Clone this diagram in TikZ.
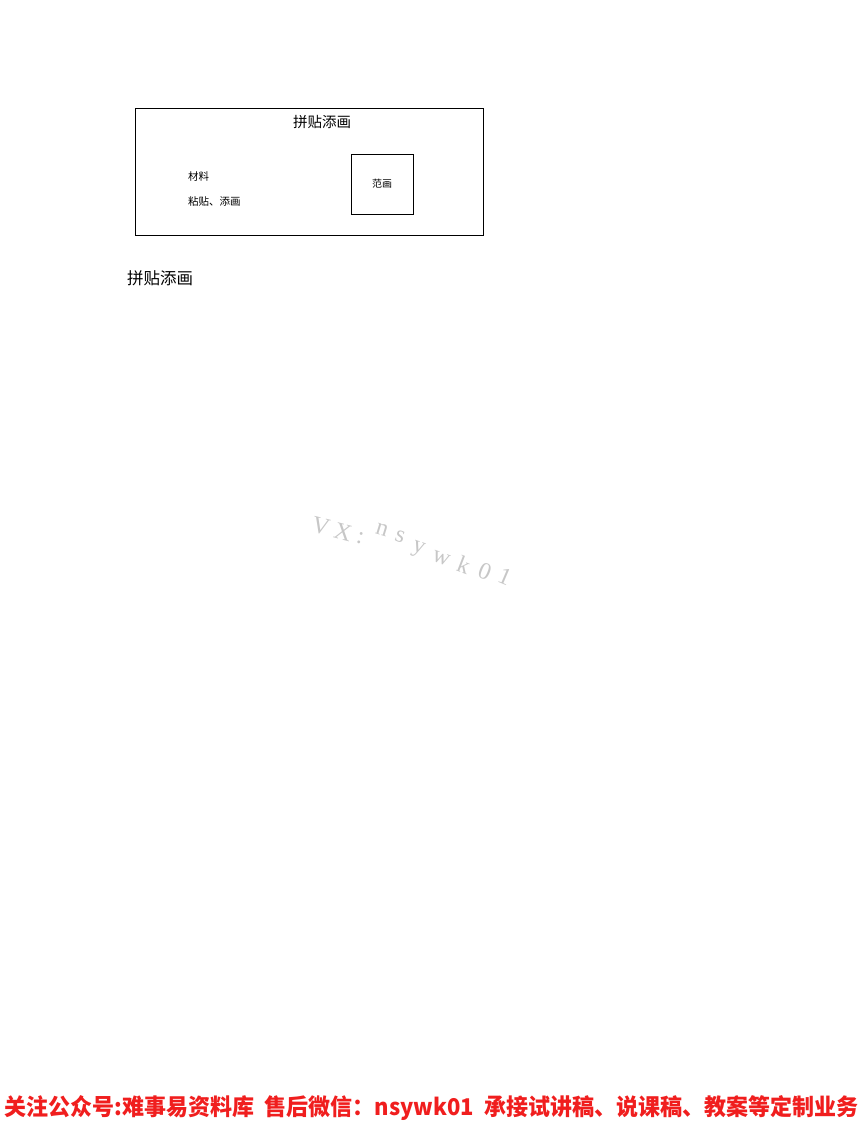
\documentclass[tikz,border=0pt]{standalone}
\usepackage{fontspec}
\usepackage{graphicx}
\newfontfamily\cjk{Noto Sans CJK SC}
\setmainfont{Liberation Serif}
\begin{document}
\begin{tikzpicture}[x=1bp,y=-1bp,
  boxsty/.style={draw=black,line width=0.8bp,inner sep=0pt},
  lbl/.style={inner sep=0pt,font=\cjk\fontsize{10.5bp}{12bp}\selectfont},
  wmk/.style={inner sep=0pt,text=black!22,font=\fontsize{24bp}{26bp}\selectfont}]
\useasboundingbox (0,0) rectangle (866,1122);
\node[boxsty,minimum width=348bp,minimum height=127bp] (outer) at (309,171.5) {};
\node[inner sep=0pt,font=\cjk\fontsize{14.5bp}{16bp}\selectfont] (title) at (322,122) {拼贴添画};
\node[boxsty,minimum width=62bp,minimum height=60bp] (inner) at (382,184) {};
\node[lbl,font=\cjk\fontsize{10bp}{12bp}\selectfont] (fanhua) at (inner.center) {范画};
\node[lbl,anchor=west] (cailiao) at (188,176) {材料};
\node[lbl,anchor=west] (zhantie) at (188,202) {粘贴、添画};
\node[inner sep=0pt,anchor=west,font=\cjk\fontsize{16.5bp}{18bp}\selectfont] (caption) at (127,278) {拼贴添画};
\node[wmk,rotate=-14] (w1) at (321,526) {V};
\node[wmk,rotate=-15] (w2) at (343,532) {X};
\node[wmk,rotate=-16] (w3) at (360,538) {:};
\node[wmk,rotate=-17] (w4) at (382,530) {n};
\node[wmk,rotate=-18] (w5) at (400,537) {s};
\node[wmk,rotate=-19] (w6) at (418,550) {y};
\node[wmk,rotate=-20] (w7) at (441,558) {w};
\node[wmk,rotate=-21] (w8) at (464,565) {k};
\node[wmk,rotate=-22] (w9) at (485,571) {0};
\node[wmk,rotate=-23] (w10) at (505,577) {1};
\node[inner sep=0pt,text={rgb,255:red,240;green,30;blue,30}] (footer) at (431.5,1108)
  {\resizebox{853bp}{20bp}{\cjk\bfseries 关注公众号:难事易资料库\ \ 售后微信：nsywk01\ \ 承接试讲稿、说课稿、教案等定制业务}};
\end{tikzpicture}
\end{document}
